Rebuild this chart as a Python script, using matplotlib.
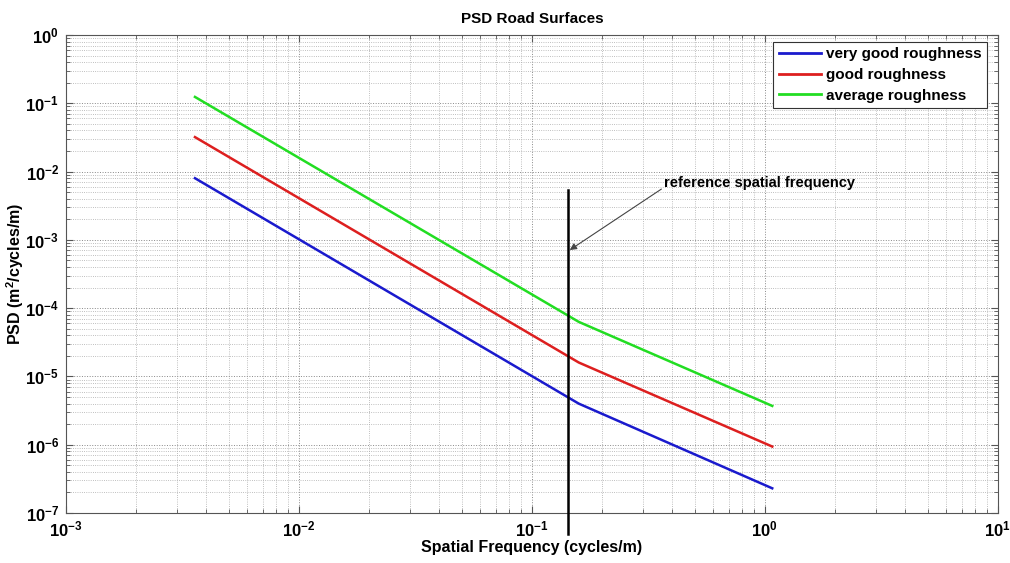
#!/usr/bin/env python3
"""
PSD of road surfaces (piecewise log-log spectra) with the reference
spatial frequency marked. Saves out.png.
"""

import matplotlib
matplotlib.use('Agg')
import matplotlib.pyplot as plt
from matplotlib.ticker import LogLocator, NullFormatter

# Spatial frequency points (cycles/m): start, slope change, end
FREQ = [0.00358, 0.159, 1.077]

# PSD (m^2/cycles/m) at those frequencies
PSD_VERY_GOOD = [8.0e-3, 4.0e-6, 2.3e-7]
PSD_GOOD = [3.2e-2, 1.6e-5, 9.4e-7]
PSD_AVERAGE = [1.24e-1, 6.3e-5, 3.7e-6]

SERIES = [
    ("very good roughness", PSD_VERY_GOOD, "#1a1acd"),
    ("good roughness", PSD_GOOD, "#dd1f1f"),
    ("average roughness", PSD_AVERAGE, "#22dd22"),
]

# Reference spatial frequency marker
REF_FREQ = 0.1426
REF_SPAN = [5.0e-8, 5.4e-3]
REF_LABEL = "reference spatial frequency"

plt.rcParams['font.family'] = ['Liberation Sans', 'DejaVu Sans']
plt.rcParams['font.weight'] = 'bold'
plt.rcParams['mathtext.fontset'] = 'custom'
plt.rcParams['mathtext.rm'] = 'Liberation Sans:bold'
plt.rcParams['mathtext.it'] = 'Liberation Sans:bold'
plt.rcParams['mathtext.bf'] = 'Liberation Sans:bold'
plt.rcParams['axes.unicode_minus'] = False

fig = plt.figure(figsize=(10.10, 5.63), dpi=100)
ax = fig.add_axes([0.0653, 0.0888, 0.9225, 0.849])

for label, psd, color in SERIES:
    ax.loglog(FREQ, psd, color=color, linewidth=1.8, label=label, zorder=3)

# vertical marker runs a little past the bottom of the axes
ax.plot([REF_FREQ, REF_FREQ], REF_SPAN, color='black', linewidth=1.8,
        clip_on=False, zorder=4)

ax.annotate(REF_LABEL, xy=(REF_FREQ * 1.02, 7.1e-4), xytext=(0.37, 6.8e-3),
            fontsize=10.5, fontweight='bold', va='center', ha='left',
            arrowprops=dict(arrowstyle='-|>', color='#444444', lw=0.8,
                            mutation_scale=10, shrinkA=0, shrinkB=0,
                            relpos=(0.0, 0.2)),
            zorder=5)

ax.set_xlim(1e-3, 1e1)
ax.set_ylim(1e-7, 1e0)

ax.xaxis.set_major_locator(LogLocator(base=10, numticks=10))
ax.yaxis.set_major_locator(LogLocator(base=10, numticks=10))
ax.xaxis.set_minor_locator(LogLocator(base=10, subs=range(2, 10), numticks=20))
ax.yaxis.set_minor_locator(LogLocator(base=10, subs=range(2, 10), numticks=20))
ax.xaxis.set_minor_formatter(NullFormatter())
ax.yaxis.set_minor_formatter(NullFormatter())

ax.grid(True, which='major', linestyle=':', color='#888888', linewidth=0.7)
ax.grid(True, which='minor', linestyle=':', color='#aaaaaa', linewidth=0.6)
ax.set_axisbelow(True)

ax.tick_params(which='both', direction='in', top=True, right=True,
               color='#555555')
ax.tick_params(which='major', length=5, labelsize=12, pad=5)
ax.tick_params(which='minor', length=3)
for spine in ax.spines.values():
    spine.set_color('#555555')
    spine.set_linewidth(0.8)

ax.set_title("PSD Road Surfaces", fontsize=11, fontweight='bold', pad=9)
ax.set_xlabel("Spatial Frequency (cycles/m)", fontsize=11.5,
              fontweight='bold', labelpad=0)
ax.set_ylabel("PSD (m$^2$/cycles/m)", fontsize=11.5, fontweight='bold')
ax.yaxis.set_label_coords(-0.043, 0.5)

leg = ax.legend(loc='upper right', bbox_to_anchor=(0.9885, 0.986),
                borderaxespad=0, fontsize=11, handlelength=2.8,
                handletextpad=0.3, labelspacing=0.45, fancybox=False,
                framealpha=1, edgecolor='#333333', borderpad=0.35)
leg.get_frame().set_linewidth(0.8)
for line in leg.get_lines():
    line.set_linewidth(2.0)

fig.savefig("out.png", dpi=100, facecolor='white')
